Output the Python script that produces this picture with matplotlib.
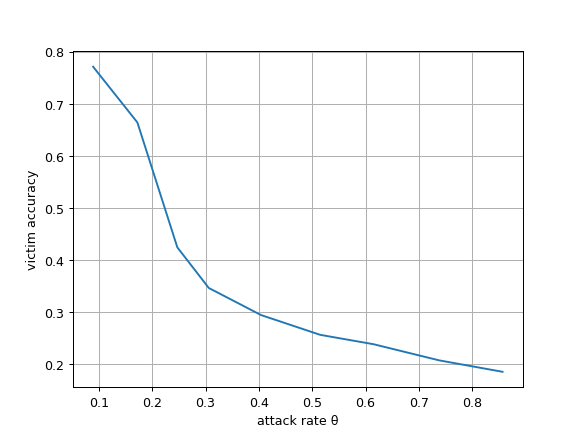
import matplotlib
matplotlib.use('Agg')
import matplotlib.pyplot as plt

attack_rate = [0.089, 0.172, 0.247, 0.306, 0.404, 0.515, 0.615, 0.738, 0.857]
victim_acc = [0.771, 0.664, 0.424, 0.346, 0.294, 0.256, 0.238, 0.207, 0.185]

fig, ax = plt.subplots(figsize=(6.4, 4.8))
ax.plot(attack_rate, victim_acc)
ax.set_xlabel('attack rate θ')
ax.set_ylabel('victim accuracy')
ax.grid(True)
fig.savefig('out.png', dpi=90.8)
